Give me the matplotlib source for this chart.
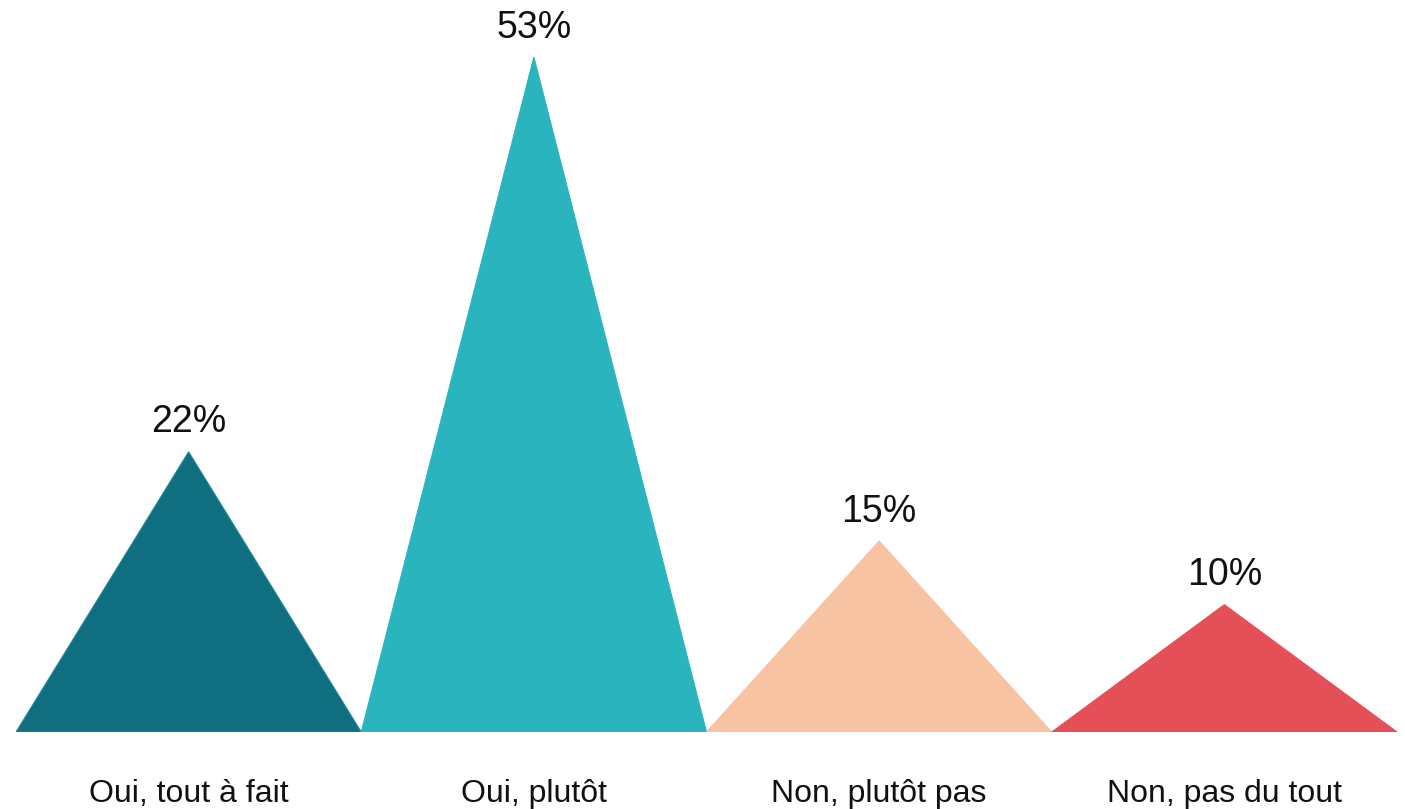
import matplotlib
matplotlib.use("Agg")
import matplotlib.pyplot as plt

categories = ["Oui, tout à fait", "Oui, plutôt", "Non, plutôt pas", "Non, pas du tout"]
values = [22, 53, 15, 10]
colors = ["#0F6E80", "#2AB5BE", "#F7C3A3", "#E55058"]
edge_colors = ["#1E8A96", "#2AB5BE", "#F7C3A3", "#E55058"]

plt.rcParams['font.family'] = ['Liberation Sans', 'DejaVu Sans']

fig = plt.figure(figsize=(14.05, 8.09), dpi=100)
ax = fig.add_axes([16 / 1405, (809 - 732) / 809, 1381 / 1405, 675 / 809])
ax.set_xlim(-0.5, len(values) - 0.5)
ax.set_ylim(0, 53)
ax.axis('off')

for i, (v, c, ec) in enumerate(zip(values, colors, edge_colors)):
    ax.fill([i - 0.5, i, i + 0.5], [0, v, 0], color=c, edgecolor=ec, linewidth=0.8)
    ax.annotate(f"{v}%", xy=(i, v), xytext=(0, 14), textcoords='offset points',
                ha='center', va='baseline', fontsize=27, color='#111111',
                annotation_clip=False)
    ax.annotate(categories[i], xy=(i, 0), xytext=(0, -50.5), textcoords='offset points',
                ha='center', va='baseline', fontsize=23, color='#111111',
                annotation_clip=False)

fig.savefig("out.png", dpi=100)
